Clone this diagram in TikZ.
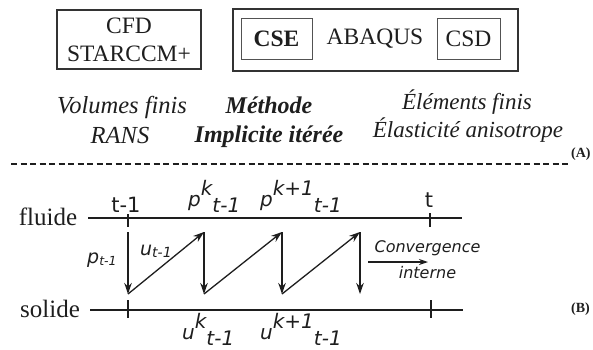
\documentclass[tikz,border=0pt]{standalone}
\usepackage{fontspec}
\setmainfont{Liberation Serif}
\newfontfamily\labfont{DejaVu Sans}
\usetikzlibrary{arrows.meta}
\definecolor{ink}{HTML}{1E1E1E}
\definecolor{boxline}{HTML}{333333}
\begin{document}
\begin{tikzpicture}[x=1pt,y=-1pt,
  box/.style={draw=boxline, line width=1.3pt, inner sep=0pt},
  inbox/.style={draw=boxline!85, line width=1pt, inner sep=0pt},
  big/.style={font=\fontsize{23.5}{28}\selectfont, text=ink, align=center},
  desc/.style={font=\fontsize{24.5}{29}\selectfont\itshape, text=ink, anchor=base, inner sep=0pt},
  descr/.style={font=\fontsize{23}{29}\selectfont\itshape, text=ink, anchor=base, inner sep=0pt},
  descb/.style={font=\fontsize{24}{29}\selectfont\bfseries\itshape, text=ink, anchor=base, inner sep=0pt},
  side/.style={font=\fontsize{25}{28}\selectfont, text=ink, anchor=base, inner sep=0pt},
  axis/.style={line width=1.2pt, draw=ink},
  arr/.style={line width=1.3pt, draw=ink, -{Stealth[length=11pt,width=7.5pt]}},
  lab/.style={font=\labfont\fontsize{20}{22}\selectfont\itshape, text=ink, anchor=base west, inner sep=0pt},
  tlab/.style={font=\labfont\fontsize{21}{22}\selectfont, text=ink, anchor=base, inner sep=0pt},
  small/.style={font=\fontsize{14}{16}\selectfont\bfseries, text=ink, anchor=base west, inner sep=0pt}
]
\useasboundingbox (0,0) rectangle (593,349);
\clip (0,0) rectangle (593,349);

% --- (A) top part
\node[box, big, minimum width=144pt, minimum height=59pt] (cfd) at (129,39.5) {CFD\\STARCCM+};
\node[box, minimum width=285pt, minimum height=62pt] (csm) at (375.5,40) {};
\node[inbox, big, minimum width=71pt, minimum height=41pt] (cse) at (276.5,38.5) {\bfseries CSE};
\node[big, inner sep=0pt] (abaqus) at (375,38.5) {ABAQUS};
\node[inbox, big, minimum width=63pt, minimum height=41pt] (csd) at (468.5,38.5) {CSD};

\node[desc] (vf) at (122,113) {Volumes finis};
\node[desc] (rans) at (120,143) {RANS};
\node[descb] (meth) at (269,113) {Méthode};
\node[descb] (impl) at (269,142) {Implicite itérée};
\node[descr] (ef) at (467,109) {Éléments finis};
\node[descr] (ea) at (468,137) {Élasticité anisotrope};
\node[small] (lA) at (571,157) {(A)};

\coordinate (d1) at (11,164);
\coordinate (d2) at (568,164);
\draw[line width=1.2pt, draw=ink, dash pattern=on 6pt off 3.5pt] (d1) -- (d2);

% --- (B) bottom part
\node[side] (fluide) at (48,225) {fluide};
\node[side] (solide) at (50,317) {solide};

\coordinate (f0) at (88,218);
\coordinate (f1) at (462,218);
\coordinate (s0) at (90,310);
\coordinate (s1) at (463,310);
\draw[axis] (f0) -- (f1);
\draw[axis] (s0) -- (s1);

\coordinate (ft1a) at (128,214); \coordinate (ft1b) at (128,227);
\coordinate (ft2a) at (430,213); \coordinate (ft2b) at (430,227);
\coordinate (st1a) at (128,300); \coordinate (st1b) at (128,318);
\coordinate (st2a) at (431,300); \coordinate (st2b) at (431,318);
\draw[axis] (ft1a) -- (ft1b);
\draw[axis] (ft2a) -- (ft2b);
\draw[axis] (st1a) -- (st1b);
\draw[axis] (st2a) -- (st2b);

\node[tlab] (tm1) at (126,212) {t-1};
\node[tlab] (tt) at (429,207) {t};

\coordinate (T1) at (128,232); \coordinate (B1) at (128,294);
\coordinate (T2) at (204,232); \coordinate (B2) at (204,294);
\coordinate (T3) at (282,232); \coordinate (B3) at (282,294);
\coordinate (T4) at (360,232); \coordinate (B4) at (360,294);
\draw[arr] (T1) -- (B1);
\draw[arr] (B1) -- (T2);
\draw[arr] (T2) -- (B2);
\draw[arr] (B2) -- (T3);
\draw[arr] (T3) -- (B3);
\draw[arr] (B3) -- (T4);
\draw[arr] (T4) -- (B4);

\node[lab, font=\labfont\fontsize{19}{20}\selectfont\itshape] (pt) at (87,263) {p{\fontsize{12.5}{13}\selectfont\raisebox{-2pt}{t-1}}};
\node[lab, font=\labfont\fontsize{19}{20}\selectfont\itshape] (ut) at (140,255) {u{\fontsize{14}{15}\selectfont\raisebox{-2pt}{t-1}}};

\node[lab] (pk) at (188,206) {p\raisebox{11pt}{k}\raisebox{-6pt}{t-1}};
\node[lab] (pk1) at (260,206) {p\raisebox{11pt}{k+1}\raisebox{-6pt}{t-1}};
\node[lab] (uk) at (182,339) {u\raisebox{11pt}{k}\raisebox{-6pt}{t-1}};
\node[lab] (uk1) at (260,339) {u\raisebox{11pt}{k+1}\raisebox{-6pt}{t-1}};

\node[font=\labfont\fontsize{16}{18}\selectfont\itshape, text=ink, anchor=base, inner sep=0pt] (conv) at (427.5,252) {Convergence};
\node[font=\labfont\fontsize{16}{18}\selectfont\itshape, text=ink, anchor=base, inner sep=0pt] (intern) at (427.5,278) {interne};
\coordinate (c0) at (368,262);
\coordinate (c1) at (428,262);
\draw[line width=1.2pt, draw=ink, -{Stealth[length=9pt,width=6pt]}] (c0) -- (c1);

\node[small] (lB) at (571,312) {(B)};
\end{tikzpicture}
\end{document}
